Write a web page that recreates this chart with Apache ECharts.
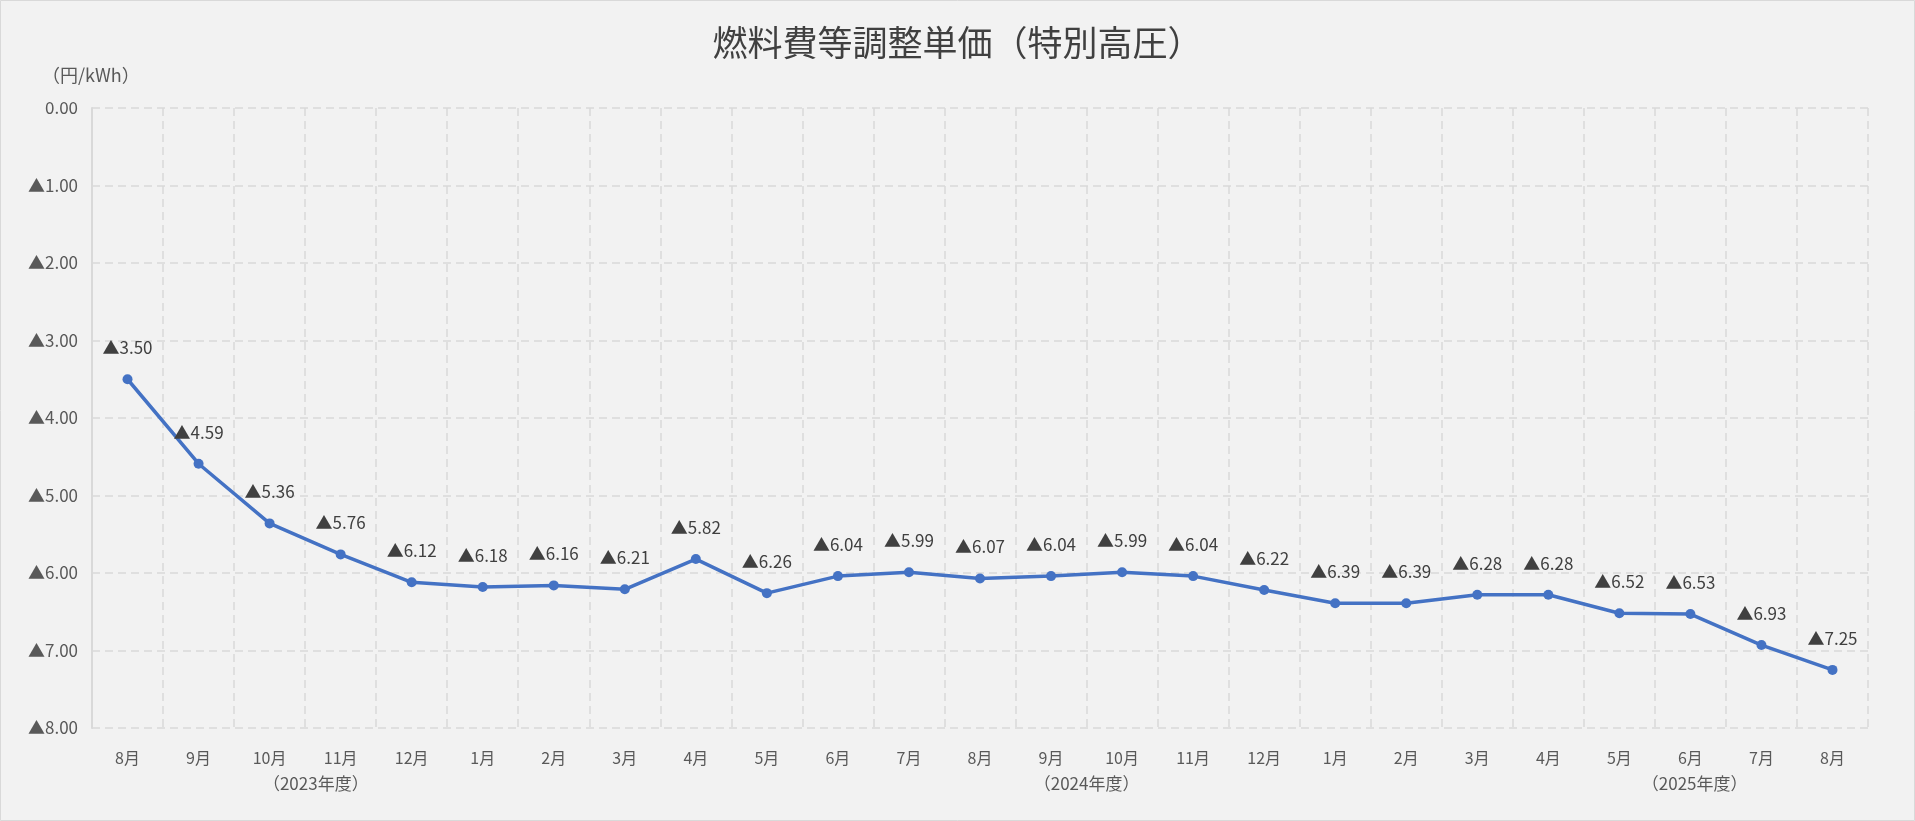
<!DOCTYPE html>
<html><head><meta charset="utf-8">
<script src="https://cdn.jsdelivr.net/npm/echarts@6/dist/echarts.min.js"></script>
<style>html,body{margin:0;padding:0;background:#fff}#main{width:1915px;height:821px}</style>
</head><body><div id="main"></div>
<script>
const months = ['8月','9月','10月','11月','12月','1月','2月','3月','4月','5月','6月','7月','8月','9月','10月','11月','12月','1月','2月','3月','4月','5月','6月','7月','8月'];
const values = [3.50,4.59,5.36,5.76,6.12,6.18,6.16,6.21,5.82,6.26,6.04,5.99,6.07,6.04,5.99,6.04,6.22,6.39,6.39,6.28,6.28,6.52,6.53,6.93,7.25];
const yearLabels = ['（2023年度）', '（2024年度）', '（2025年度）'];
const yearPos = [2.65, 13.5, 22.06];

let myChart = echarts.init(document.getElementById('main'));
const font = "'Noto Sans CJK JP', 'Noto Sans', sans-serif";
let option = {
    backgroundColor: '#f2f2f2',
    textStyle: {fontFamily: font},
    title: {
        text: '燃料費等調整単価（特別高圧）',
        left: 'center', top: 20,
        textStyle: {fontSize: 35, fontWeight: 'normal', color: '#404040', fontFamily: font}
    },
    grid: {left: 92, right: 47, top: 108, bottom: 93},
    xAxis: {
        type: 'category',
        data: months,
        boundaryGap: true,
        axisLine: {show: false},
        axisTick: {show: false},
        splitLine: {show: true, interval: 0, lineStyle: {color: '#d9d9d9', type: [8, 5], width: 1.5}},
        axisLabel: {interval: 0, color: '#595959', fontSize: 16, margin: 22}
    },
    yAxis: {
        type: 'value', inverse: true, min: 0, max: 8, interval: 1,
        axisLine: {show: true, lineStyle: {color: '#d9d9d9', width: 2}},
        axisTick: {show: false},
        splitLine: {lineStyle: {color: '#d9d9d9', type: [8, 5], width: 1.5}},
        axisLabel: {
            color: '#595959', fontSize: 17, margin: 14,
            formatter: function (v) { return v === 0 ? '0.00' : '▲' + v.toFixed(2); }
        }
    },
    series: [{
        type: 'line',
        data: values,
        symbol: 'circle', symbolSize: 10,
        lineStyle: {color: '#4472c4', width: 3.5},
        itemStyle: {color: '#4472c4'},
        label: {
            show: true, position: 'top', distance: 18,
            color: '#404040', fontSize: 17,
            formatter: function (p) { return '▲' + p.value.toFixed(2); }
        }
    }]
};
myChart.setOption(option);

// 年度ラベル
let g = [{
    type: 'rect', shape: {x: 0.5, y: 0.5, width: 1914, height: 820},
    style: {fill: 'none', stroke: '#d9d9d9', lineWidth: 1}
}, {
    type: 'text', left: 42, top: 66,
    style: {text: '（円/kWh）', fontSize: 18, fill: '#595959', fontFamily: font}
}];
yearLabels.forEach(function (t, i) {
    let x0 = myChart.convertToPixel({xAxisIndex: 0}, 0);
    let x1 = myChart.convertToPixel({xAxisIndex: 0}, 1);
    let x = x0 + (x1 - x0) * yearPos[i];
    g.push({type: 'text', x: x, y: 784,
        style: {text: t, fontSize: 17, fill: '#595959', fontFamily: font, align: 'center', verticalAlign: 'middle'}});
});
myChart.setOption({graphic: g});
</script></body></html>
